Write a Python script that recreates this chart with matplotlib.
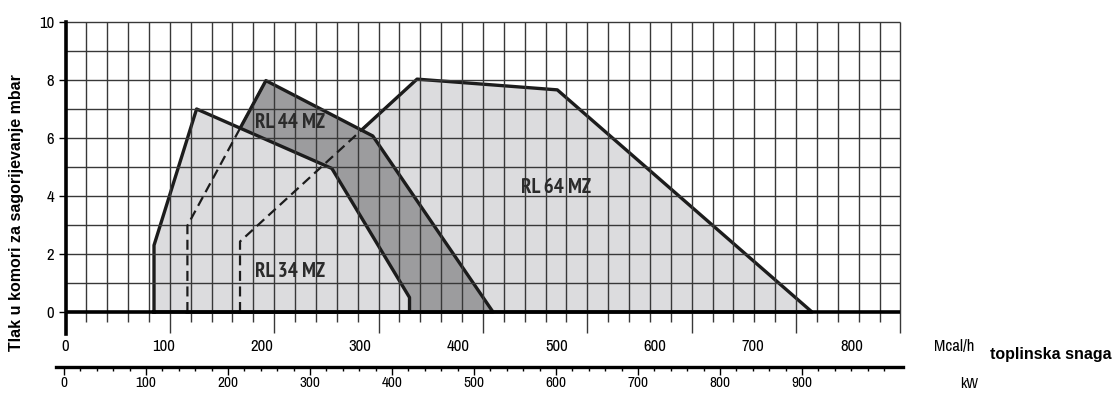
import os
import matplotlib
matplotlib.use("Agg")
import matplotlib.pyplot as plt
import numpy as np
from matplotlib import font_manager

# operating ranges, main axis in kW, pressure in mbar
rl34_kw = [106, 106, 157, 319, 412, 412]
rl34_mbar = [0, 2.3, 7.0, 4.95, 0.5, 0]
rl44_kw = [146, 146, 240, 368, 512]
rl44_mbar = [0, 2.98, 7.98, 6.07, 0]
rl64_kw = [209, 209, 421, 589, 894]
rl64_mbar = [0, 2.43, 8.03, 7.66, 0]

labels = ["RL 34 MZ", "RL 44 MZ", "RL 64 MZ"]
label_kw = [269, 269, 587]
label_mbar = [1.41, 6.52, 4.28]

mcal_ticks = [0, 100, 200, 300, 400, 500, 600, 700, 800]
kw_ticks = [0, 100, 200, 300, 400, 500, 600, 700, 800, 900]
p_ticks = [0, 2, 4, 6, 8, 10]
MCAL_PER_KW = 0.85


def find_font(keys, bold):
    files = sorted(font_manager.findSystemFonts())
    for key in keys:
        for f in files:
            b = os.path.basename(f).lower()
            if key in b and (("bold" in b) == bold) and "italic" not in b and "oblique" not in b:
                return f
    return None


keys = ["liberationsansnarrow", "sansnarrow", "narrow", "dejavusanscondensed",
        "robotocondensed", "condensed"]
nr = find_font(keys, False)
nb = find_font(keys, True)
NARROW = font_manager.FontProperties(fname=nr) if nr else font_manager.FontProperties(family="Liberation Sans")
NARROW_B = font_manager.FontProperties(fname=nb) if nb else font_manager.FontProperties(family="Liberation Sans", weight="bold")

W, H = 1113, 393
fig = plt.figure(figsize=(W / 100, H / 100), dpi=100)


def px_box(x0, y0, x1, y1):
    return [x0 / W, 1 - y1 / H, (x1 - x0) / W, (y1 - y0) / H]


def fp(base, size):
    p = base.copy()
    p.set_size(size)
    return p


ax = fig.add_axes(px_box(65.5, 22, 900.5, 333.75))
ax.set_xlim(0, 1000)
ax.set_ylim(-0.75, 10)
ax.patch.set_visible(False)

light = "#dcdcde"
dark = "#9c9c9e"
edge = "#1c1c1c"


def closed(x, y):
    return np.append(x, x[0]), np.append(y, y[0])


# layers: RL 64 at the back, RL 34 in front
ax.fill(rl64_kw, rl64_mbar, color=light, lw=0, zorder=1)
ax.plot(*closed(rl64_kw, rl64_mbar), color=edge, lw=2.4, zorder=1.1)
ax.fill(rl44_kw, rl44_mbar, color=dark, lw=0, zorder=1.2)
ax.plot(*closed(rl44_kw, rl44_mbar), color=edge, lw=2.4, zorder=1.3)
ax.fill(rl34_kw, rl34_mbar, color=light, lw=0, zorder=1.4)
ax.plot(*closed(rl34_kw, rl34_mbar), color=edge, lw=2.4, zorder=1.5)

# grid
grid_x = np.arange(25, 1001, 25)
long_x = grid_x[grid_x % 125 == 0]
short_x = grid_x[grid_x % 125 != 0]
ax.vlines(short_x, -0.35, 10, color="#383838", lw=1, zorder=1.6, clip_on=False)
ax.vlines(long_x, -0.72, 10, color="#383838", lw=1, zorder=1.6, clip_on=False)
ax.hlines(np.arange(1, 11), 0, 1000, color="#383838", lw=1, zorder=1.6, clip_on=False)

# hidden left edges as dashed lines
ax.plot(rl44_kw[:3], rl44_mbar[:3], color=edge, lw=1.6, ls=(0, (4.5, 2.5)), zorder=1.7)
ax.plot(rl64_kw[:3], rl64_mbar[:3], color=edge, lw=1.6, ls=(0, (4.5, 2.5)), zorder=1.7)

ax.hlines(0, 0, 1000, color="black", lw=2.6, zorder=2)

for t, x, y in zip(labels, label_kw, label_mbar):
    ax.text(x, y, t, ha="center", va="center", fontproperties=fp(NARROW_B, 15),
            color="#2b2b2b", zorder=3)

for s in ["top", "right", "bottom"]:
    ax.spines[s].set_visible(False)
ax.spines["left"].set_linewidth(2.6)
ax.spines["left"].set_color("black")
ax.spines["left"].set_zorder(2)

ax.set_xticks([])
ax.set_yticks(p_ticks)
ax.tick_params(axis="y", length=5, width=1, pad=3)
for lab in ax.get_yticklabels():
    lab.set_fontproperties(fp(NARROW, 12))

# Mcal/h labels under the grid
sec = ax.secondary_xaxis("bottom", functions=(lambda k: k * MCAL_PER_KW,
                                               lambda m: m / MCAL_PER_KW))
sec.set_xticks(mcal_ticks)
sec.tick_params(length=0, pad=3.5)
sec.spines["bottom"].set_visible(False)
for lab in sec.get_xticklabels():
    lab.set_fontproperties(fp(NARROW, 12))

# separate kW ruler
kax = fig.add_axes([56 / W, 1 - 367 / H, 847 / W, 0.0005])
kax.set_xlim((56 - 64) / 0.82, (903 - 64) / 0.82)
kax.patch.set_visible(False)
for s in ["top", "right", "left"]:
    kax.spines[s].set_visible(False)
kax.spines["bottom"].set_linewidth(2.4)
kax.set_yticks([])
kax.set_xticks(kw_ticks)
kax.set_xticks(np.arange(20, 1001, 20), minor=True)
kax.tick_params(axis="x", which="major", length=6, width=1, pad=0.5)
kax.tick_params(axis="x", which="minor", length=3, width=1)
for lab in kax.get_xticklabels():
    lab.set_fontproperties(fp(NARROW, 11))

fig.text(954 / W, 1 - 346 / H, "Mcal/h", ha="center", va="center", fontproperties=fp(NARROW, 12))
fig.text(969 / W, 1 - 384 / H, "kW", ha="center", va="center", fontproperties=fp(NARROW, 11))
fig.text(1051 / W, 1 - 355 / H, "toplinska snaga", ha="center", va="center",
         fontsize=11.5, fontweight="bold", family=["Liberation Sans", "DejaVu Sans"])
fig.text(17 / W, 1 - 212.5 / H, "Tlak u komori za sagorijevanje mbar", ha="center",
         va="center", rotation=90, fontsize=11.5, fontweight="bold",
         family=["Liberation Sans", "DejaVu Sans"])

fig.savefig("out.png", dpi=100)
